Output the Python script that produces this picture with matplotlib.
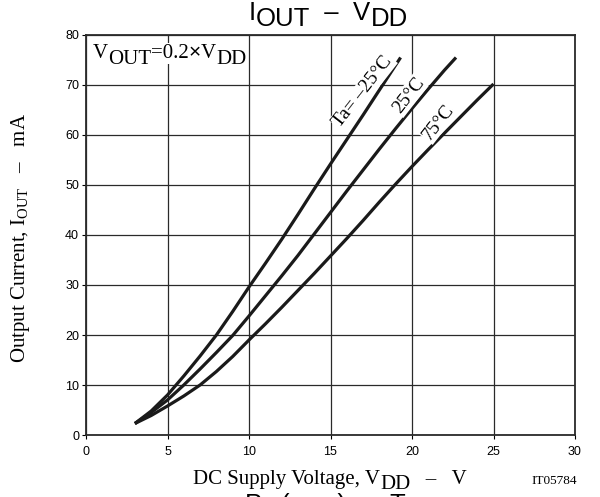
import matplotlib
matplotlib.use('Agg')
import matplotlib.pyplot as plt

SERIF = 'Liberation Serif'
SANS = 'Liberation Sans'
plt.rcParams['mathtext.fontset'] = 'custom'
plt.rcParams['mathtext.rm'] = SERIF

# Curves (V_DD in V, I_OUT in mA)
v_m25 = [3, 4, 5, 6, 7, 8, 9, 10, 11, 12, 13, 14, 15, 16, 17, 18, 19.3]
i_m25 = [2.3, 4.8, 8.0, 11.8, 15.8, 20, 24.7, 29.6, 34.3, 39.1, 44.1, 49.2, 54.2, 59.1, 64, 69, 75.5]

v_25 = [3, 4, 5, 6, 7, 8, 9, 10, 11, 12, 13, 14, 15, 16, 17, 18, 19, 20, 21, 22, 22.7]
i_25 = [2.3, 4.5, 7, 10, 13.2, 16.5, 19.9, 23.8, 27.8, 31.8, 35.9, 40.2, 44.5, 48.8,
        53, 57.2, 61.3, 65.3, 69.2, 73, 75.5]

v_75 = [3, 4, 5, 6, 7, 8, 9, 10, 11, 12, 13, 14, 15, 16, 17, 18, 19, 20, 21, 22, 23, 24, 25]
i_75 = [2.3, 3.9, 5.8, 7.8, 10, 12.7, 15.7, 19, 22.2, 25.5, 28.9, 32.3, 35.8, 39.3,
        42.9, 46.6, 50.2, 53.7, 57.1, 60.4, 63.7, 67, 70.2]

x_ticks = [0, 5, 10, 15, 20, 25, 30]
y_ticks = [0, 10, 20, 30, 40, 50, 60, 70, 80]

W, H = 600, 497
fig = plt.figure(figsize=(W / 100, H / 100), dpi=100)
ax = fig.add_axes([86 / W, 1 - 435 / H, 489 / W, 400 / H])
renderer = fig.canvas.get_renderer()


def draw_runs(x0, base, runs, size, family, box=False):
    # write text pieces one after the other; dy lowers a piece (pixels)
    x = x0
    for s, dy, fam in runs:
        kw = dict(fontsize=size, fontfamily=fam or family, ha='left', va='baseline')
        if box:
            kw['bbox'] = dict(facecolor='white', edgecolor='none', pad=0.5)
        t = fig.text(x / W, 1 - (base + dy) / H, s, **kw)
        x = t.get_window_extent(renderer).x1


for v, i in [(v_m25, i_m25), (v_25, i_25), (v_75, i_75)]:
    ax.plot(v, i, color='#1a1a1a', lw=2.3, solid_capstyle='butt', zorder=3)

ax.set_xlim(0, 30)
ax.set_ylim(0, 80)
ax.set_xticks(x_ticks)
ax.set_yticks(y_ticks)
ax.grid(True, color='#2a2a2a', lw=0.9)
ax.set_axisbelow(True)
ax.tick_params(direction='out', length=3, width=0.8, labelsize=9)
ax.tick_params(axis='x', pad=5)
ax.tick_params(axis='y', pad=2)
for lbl in ax.get_xticklabels() + ax.get_yticklabels():
    lbl.set_fontfamily(SANS)
for s in ax.spines.values():
    s.set_linewidth(1.3)
    s.set_color('#2a2a2a')

# curve labels with white background to break the grid
lab = dict(fontfamily=SERIF, fontsize=14, rotation=52,
           ha='center', va='center', zorder=4,
           bbox=dict(facecolor='white', edgecolor='none', pad=1))
ax.text(17.0, 68.7, 'Ta= \u201325\u00b0C', **lab)
ax.text(19.8, 68.0, '25\u00b0C', **lab)
ax.text(21.6, 62.6, '75\u00b0C', **lab)

# V_OUT = 0.2 x V_DD
draw_runs(93, 58, [('V', 0, None), ('OUT', 6, None), ('=0.2', 0, None),
                   ('\u00d7', 0, SANS), ('V', 0, None), ('DD', 6, None)],
          15, SERIF, box=True)

# axis labels
draw_runs(193, 484, [('DC Supply Voltage, V', 0, None), ('DD', 5, None),
                     ('   \u2013   V', 0, None)], 15, SERIF)
fig.text(21 / W, 1 - 363 / H, 'Output Current, I$_{\\rm OUT}$   \u2013   mA',
         fontfamily=SERIF, fontsize=15, rotation=90, ha='center', va='bottom')

fig.text(577 / W, 1 - 484 / H, 'IT05784', fontfamily=SERIF, fontsize=9.5,
         ha='right', va='baseline')

# title (cut at the top edge) and the next chart's title (cut at the bottom)
draw_runs(249, 20, [('I', 0, None), ('OUT', 6, None), ('  \u2013  ', 0, None),
                    ('V', 0, None), ('DD', 6, None)], 18.5, SANS)
draw_runs(245, 512, [('P', 0, None), ('D', 6, None), ('(max)', 0, None),
                     ('  \u2013  ', 0, None), ('T', 0, None), ('a', 6, None)], 18.5, SANS)

fig.savefig('out.png', dpi=100)
